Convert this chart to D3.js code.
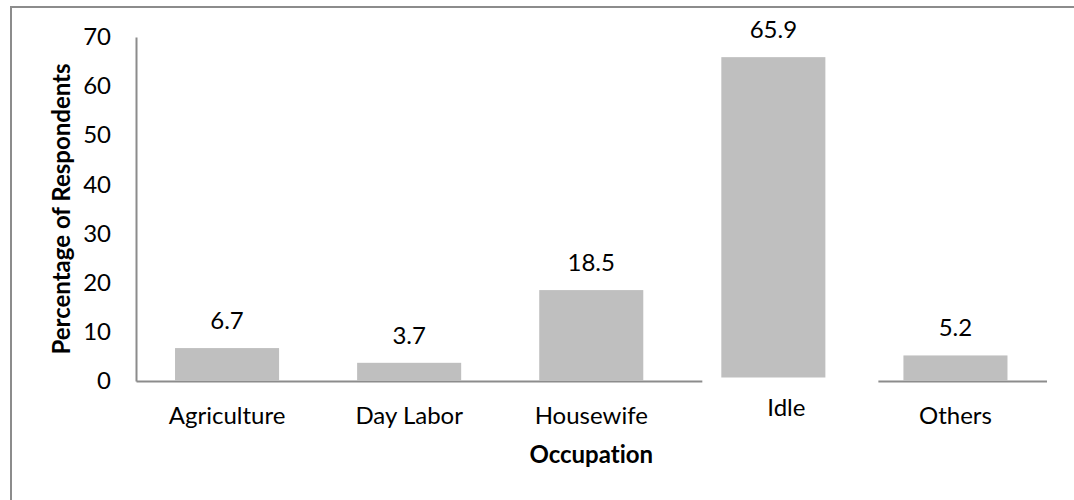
<!DOCTYPE html>
<html>
<head>
<meta charset="utf-8">
<script src="https://cdn.jsdelivr.net/npm/d3@7"></script>
<style>
  body { margin: 0; background: #fff; }
  svg text { font-family: Lato, "Noto Sans", sans-serif; fill: #000; font-variant-ligatures: none; }
</style>
</head>
<body>
<div id="chart"></div>
<script>
var categories = ['Agriculture', 'Day Labor', 'Housewife', 'Idle', 'Others'];
var values = [6.7, 3.7, 18.5, 65.9, 5.2];
var yTicks = [0, 10, 20, 30, 40, 50, 60, 70];

var svgWidth = 1074, svgHeight = 500,
    margin = { top: 37, right: 27.5, bottom: 119, left: 136 },
    chartWidth = svgWidth - margin.left - margin.right,
    chartHeight = svgHeight - margin.top - margin.bottom;
var fontSize = '24px';

var svg = d3.select('#chart').append('svg')
    .attr('width', svgWidth)
    .attr('height', svgHeight);

// outer frame: only left and top edges show in the picture
svg.append('path')
    .attr('d', 'M11,' + svgHeight + 'L11,7L' + svgWidth + ',7')
    .attr('fill', 'none')
    .attr('stroke', '#8c8c8c')
    .attr('stroke-width', 2);

var g = svg.append('g')
    .attr('transform', 'translate(' + margin.left + ',' + margin.top + ')');

var x = d3.scaleBand().domain(categories).range([0, chartWidth])
    .paddingInner(0.4286).paddingOuter(0.2143);
var y = d3.scaleLinear().domain([0, 70]).range([chartHeight, 0]);

var yAxis = d3.axisLeft(y).tickValues(yTicks).tickSize(0).tickPadding(25);
var xAxis = d3.axisBottom(x).tickSize(0).tickPadding(26);

var yG = g.append('g').call(yAxis);
var xG = g.append('g').attr('transform', 'translate(0,' + chartHeight + ')').call(xAxis);
[yG, xG].forEach(function (a) {
    a.select('.domain').attr('stroke', '#8c8c8c').attr('stroke-width', 2);
    a.selectAll('text').style('font-size', fontSize).style('font-family', null);
});
xG.selectAll('text').attr('dy', '0.71em');

// the Idle column in the source sits on a pasted white patch (axis line gap, raised label)
var idle = 'Idle';
xG.selectAll('.tick')
    .filter(function (d) { return d === idle; })
    .select('text')
    .attr('transform', 'translate(13,-8)');
g.append('rect')
    .attr('x', x(idle) - 19)
    .attr('y', chartHeight - 3)
    .attr('width', x.bandwidth() + 72)
    .attr('height', 6)
    .attr('fill', '#fff');

g.selectAll('rect.bar')
    .data(values)
    .enter().append('rect')
    .attr('class', 'bar')
    .attr('x', function (d, i) { return x(categories[i]); })
    .attr('y', function (d) { return y(d); })
    .attr('width', x.bandwidth())
    .attr('height', function (d, i) { return y(0) - y(d) - (categories[i] === idle ? 3.5 : 0); })
    .attr('fill', '#bfbfbf');

g.selectAll('text.value')
    .data(values)
    .enter().append('text')
    .attr('class', 'value')
    .attr('x', function (d, i) { return x(categories[i]) + x.bandwidth() / 2; })
    .attr('y', function (d) { return y(d) - 19; })
    .attr('text-anchor', 'middle')
    .style('font-size', fontSize)
    .text(function (d) { return d.toFixed(1); });

g.append('text')
    .attr('x', chartWidth / 2)
    .attr('y', chartHeight + 82)
    .attr('text-anchor', 'middle')
    .style('font-size', fontSize)
    .style('font-weight', 'bold')
    .text('Occupation');

g.append('text')
    .attr('transform', 'translate(' + (-66) + ',' + (chartHeight / 2) + ') rotate(-90)')
    .attr('text-anchor', 'middle')
    .style('font-size', fontSize)
    .style('font-weight', 'bold')
    .text('Percentage of Respondents');
</script>
</body>
</html>
